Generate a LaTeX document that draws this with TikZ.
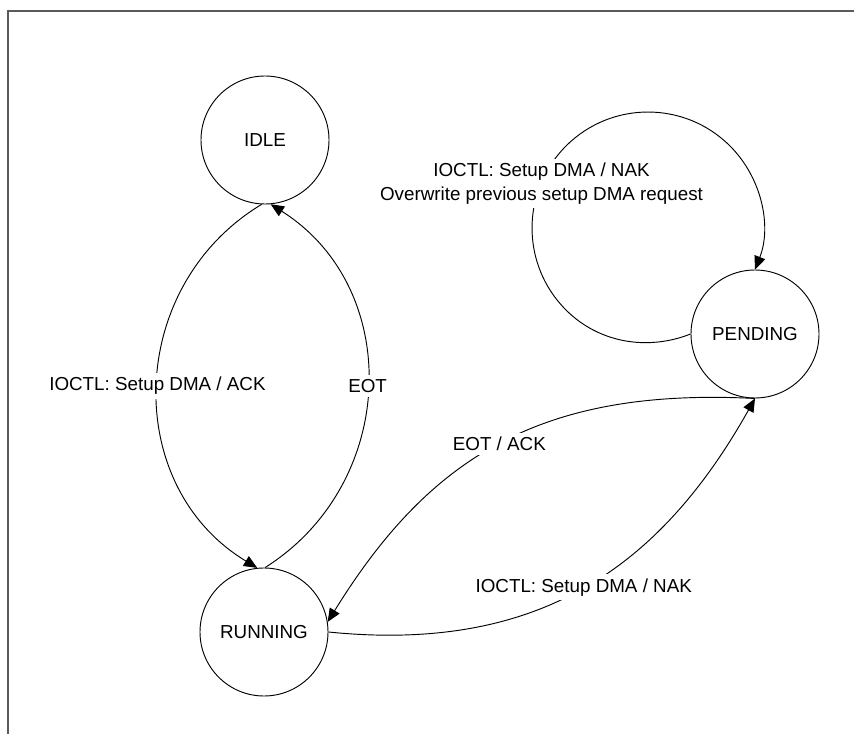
\documentclass[tikz,border=0pt]{standalone}
\usepackage{fontspec}
\setmainfont{Liberation Sans}
\usetikzlibrary{arrows.meta}
\definecolor{framegray}{RGB}{90,90,90}
\begin{document}
\begin{tikzpicture}[x=0.75pt,y=-0.75pt,
  state/.style={circle,draw,line width=0.7pt,minimum size=96pt,inner sep=0pt,
    font=\fontsize{14.1}{17}\selectfont},
  conn/.style={draw,line width=0.7pt,-{Triangle[length=10pt,width=8.5pt]}},
  lbl/.style={fill=white,inner sep=3pt,font=\fontsize{14.1}{17.6}\selectfont,align=center}]
\useasboundingbox (0,0) rectangle (854,734);
\draw[line width=1.2pt,framegray] (854,11) -- (8,11) -- (8,734);

\node[state] (idle) at (265,140) {IDLE};
\node[state] (running) at (264,632) {RUNNING};
\node[state] (pending) at (755,334) {PENDING};

\coordinate (loopA) at (566,310);
\coordinate (loopB) at (566,146);
\coordinate (loopC) at (730,146);

\draw[conn] (idle.-93) .. controls +(-136,82) and +(-136,-82) .. (running.96)
  node[lbl,pos=0.5] {IOCTL: Setup DMA / ACK};
\draw[conn] (running.89) .. controls +(133,-84) and +(133,84) .. (idle.-85)
  node[lbl,pos=0.5] {EOT};
\draw[conn] (pending.-90) .. controls +(-214,-11) and +(102,-165) .. (running.9)
  node[lbl,pos=0.5] {EOT / ACK};
\draw[conn] (running.0) .. controls +(208,21) and +(-96,171) .. (pending.-90)
  node[lbl,pos=0.5] {IOCTL: Setup DMA / NAK};
\draw[conn] (pending.180) .. controls +(-43,17) and +(33,33) .. (loopA)
  .. controls +(-45.3,-45.3) and +(-45.3,45.3) .. (loopB)
  .. controls +(45.3,-45.3) and +(-45.3,-45.3) .. (loopC)
  .. controls +(32.4,32.4) and +(16.7,-42.6) .. (pending.90);
\node[lbl] (looplbl) at (541.5,183.5) {IOCTL: Setup DMA / NAK\\Overwrite previous setup DMA request};
\end{tikzpicture}
\end{document}
